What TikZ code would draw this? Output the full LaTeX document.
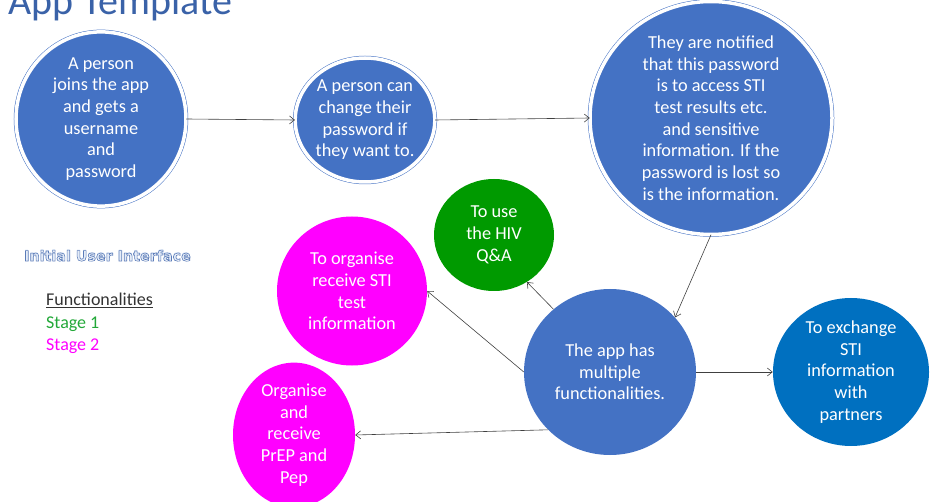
\documentclass[tikz,border=0pt]{standalone}
\usepackage{fontspec}
\setmainfont{Carlito}
\newfontfamily\wafont{DejaVu Sans}
\usetikzlibrary{shapes.geometric,arrows.meta}
\definecolor{cblue}{HTML}{4472C4}
\definecolor{cdark}{HTML}{0070C0}
\definecolor{cgreen}{HTML}{009A00}
\definecolor{cmag}{HTML}{FF00FF}
\definecolor{ctitle}{HTML}{3A62A8}
\definecolor{cstage}{HTML}{22A838}
\definecolor{carrow}{HTML}{404040}
\definecolor{cwa}{HTML}{5A7BB8}
\definecolor{cwafill}{HTML}{E4ECF8}
\tikzset{
  bub/.style={ellipse, inner sep=0pt, text=white, align=center,
    font=\fontsize{18.3}{21.7}\selectfont},
  dbl/.style={draw=cblue, line width=0.5pt, double=white, double distance=3.5pt},
  arr/.style={-{Straight Barb[length=5pt,width=8pt]}, draw=carrow, line width=0.6pt},
  legend/.style={anchor=base west, inner sep=0pt, font=\fontsize{18}{21}\selectfont}
}
\begin{document}
\begin{tikzpicture}[x=1pt,y=-1pt]
\useasboundingbox (0,0) rectangle (931,502);

\node[anchor=base west, inner sep=0pt, text=ctitle, font=\fontsize{40}{44}\selectfont] (title) at (8,15) {App Template};

% top row
\node[bub, dbl, fill=cblue, minimum width=170pt, minimum height=164pt] (c1) at (101,119)
  {A person\\joins the app\\and gets a\\username\\and\\password};
\node[bub, dbl, fill=cblue, minimum width=122pt, minimum height=124pt] (c2) at (365,120)
  {A person can\\change their\\password if\\they want to.};
\node[bub, dbl, fill=cblue, minimum width=242pt, minimum height=226pt] (c3) at (711,118)
  {They are notified\\that this password\\is to access STI\\test results etc.\\and sensitive\\information. If the\\password is lost so\\is the information.};

% lower
\node[bub, fill=cblue, minimum width=172pt, minimum height=166pt] (app) at (610,372)
  {The app has\\multiple\\functionalities.};
\node[bub, fill=cgreen, minimum width=120pt, minimum height=112pt] (green) at (494,235)
  {To use\\the HIV\\Q\&A};
\node[bub, fill=cmag, minimum width=150pt, minimum height=149pt] (mag1) at (352,291)
  {To organise\\receive STI\\test\\information};
\node[bub, fill=cmag, minimum width=122pt, minimum height=124pt] (mag2) at (294,435)
  {Organise\\and\\receive\\PrEP and\\Pep};
\node[bub, fill=cdark, minimum width=156pt, minimum height=148pt] (exch) at (851,372)
  {To exchange\\STI\\information\\with\\partners};

% connectors
\draw[arr] (c1.east) -- (c2.west);
\draw[arr] (c2.east) -- (c3.west);
\draw[arr] (c3.south) -- (app.40);
\draw[arr] (app.132) -- (green.-55);
\draw[arr] (app.west) -- (mag1.east);
\draw[arr] (app.223) -- (mag2.east);
\draw[arr] (app.east) -- (exch.west);

% legend
\node[anchor=base west, inner sep=0pt, text=cwafill, font=\wafont\bfseries\fontsize{14.3}{16}\selectfont] (wa) at (24,261) {Initial User Interface};
\node[anchor=base west, inner sep=0pt, text=cwa, font=\wafont\bfseries\fontsize{14.3}{16}\selectfont] (wa2) at (24,261)
  {\special{pdf:literal direct 1 Tr 0.6 w}Initial User Interface\special{pdf:literal direct 0 Tr}};
\node[legend, text=black!80] (fun) at (46,306) {\underline{Functionalities}};
\node[legend, text=cstage] (s1) at (46,328) {Stage 1};
\node[legend, text=cmag] (s2) at (46,350) {Stage 2};
\end{tikzpicture}
\end{document}
